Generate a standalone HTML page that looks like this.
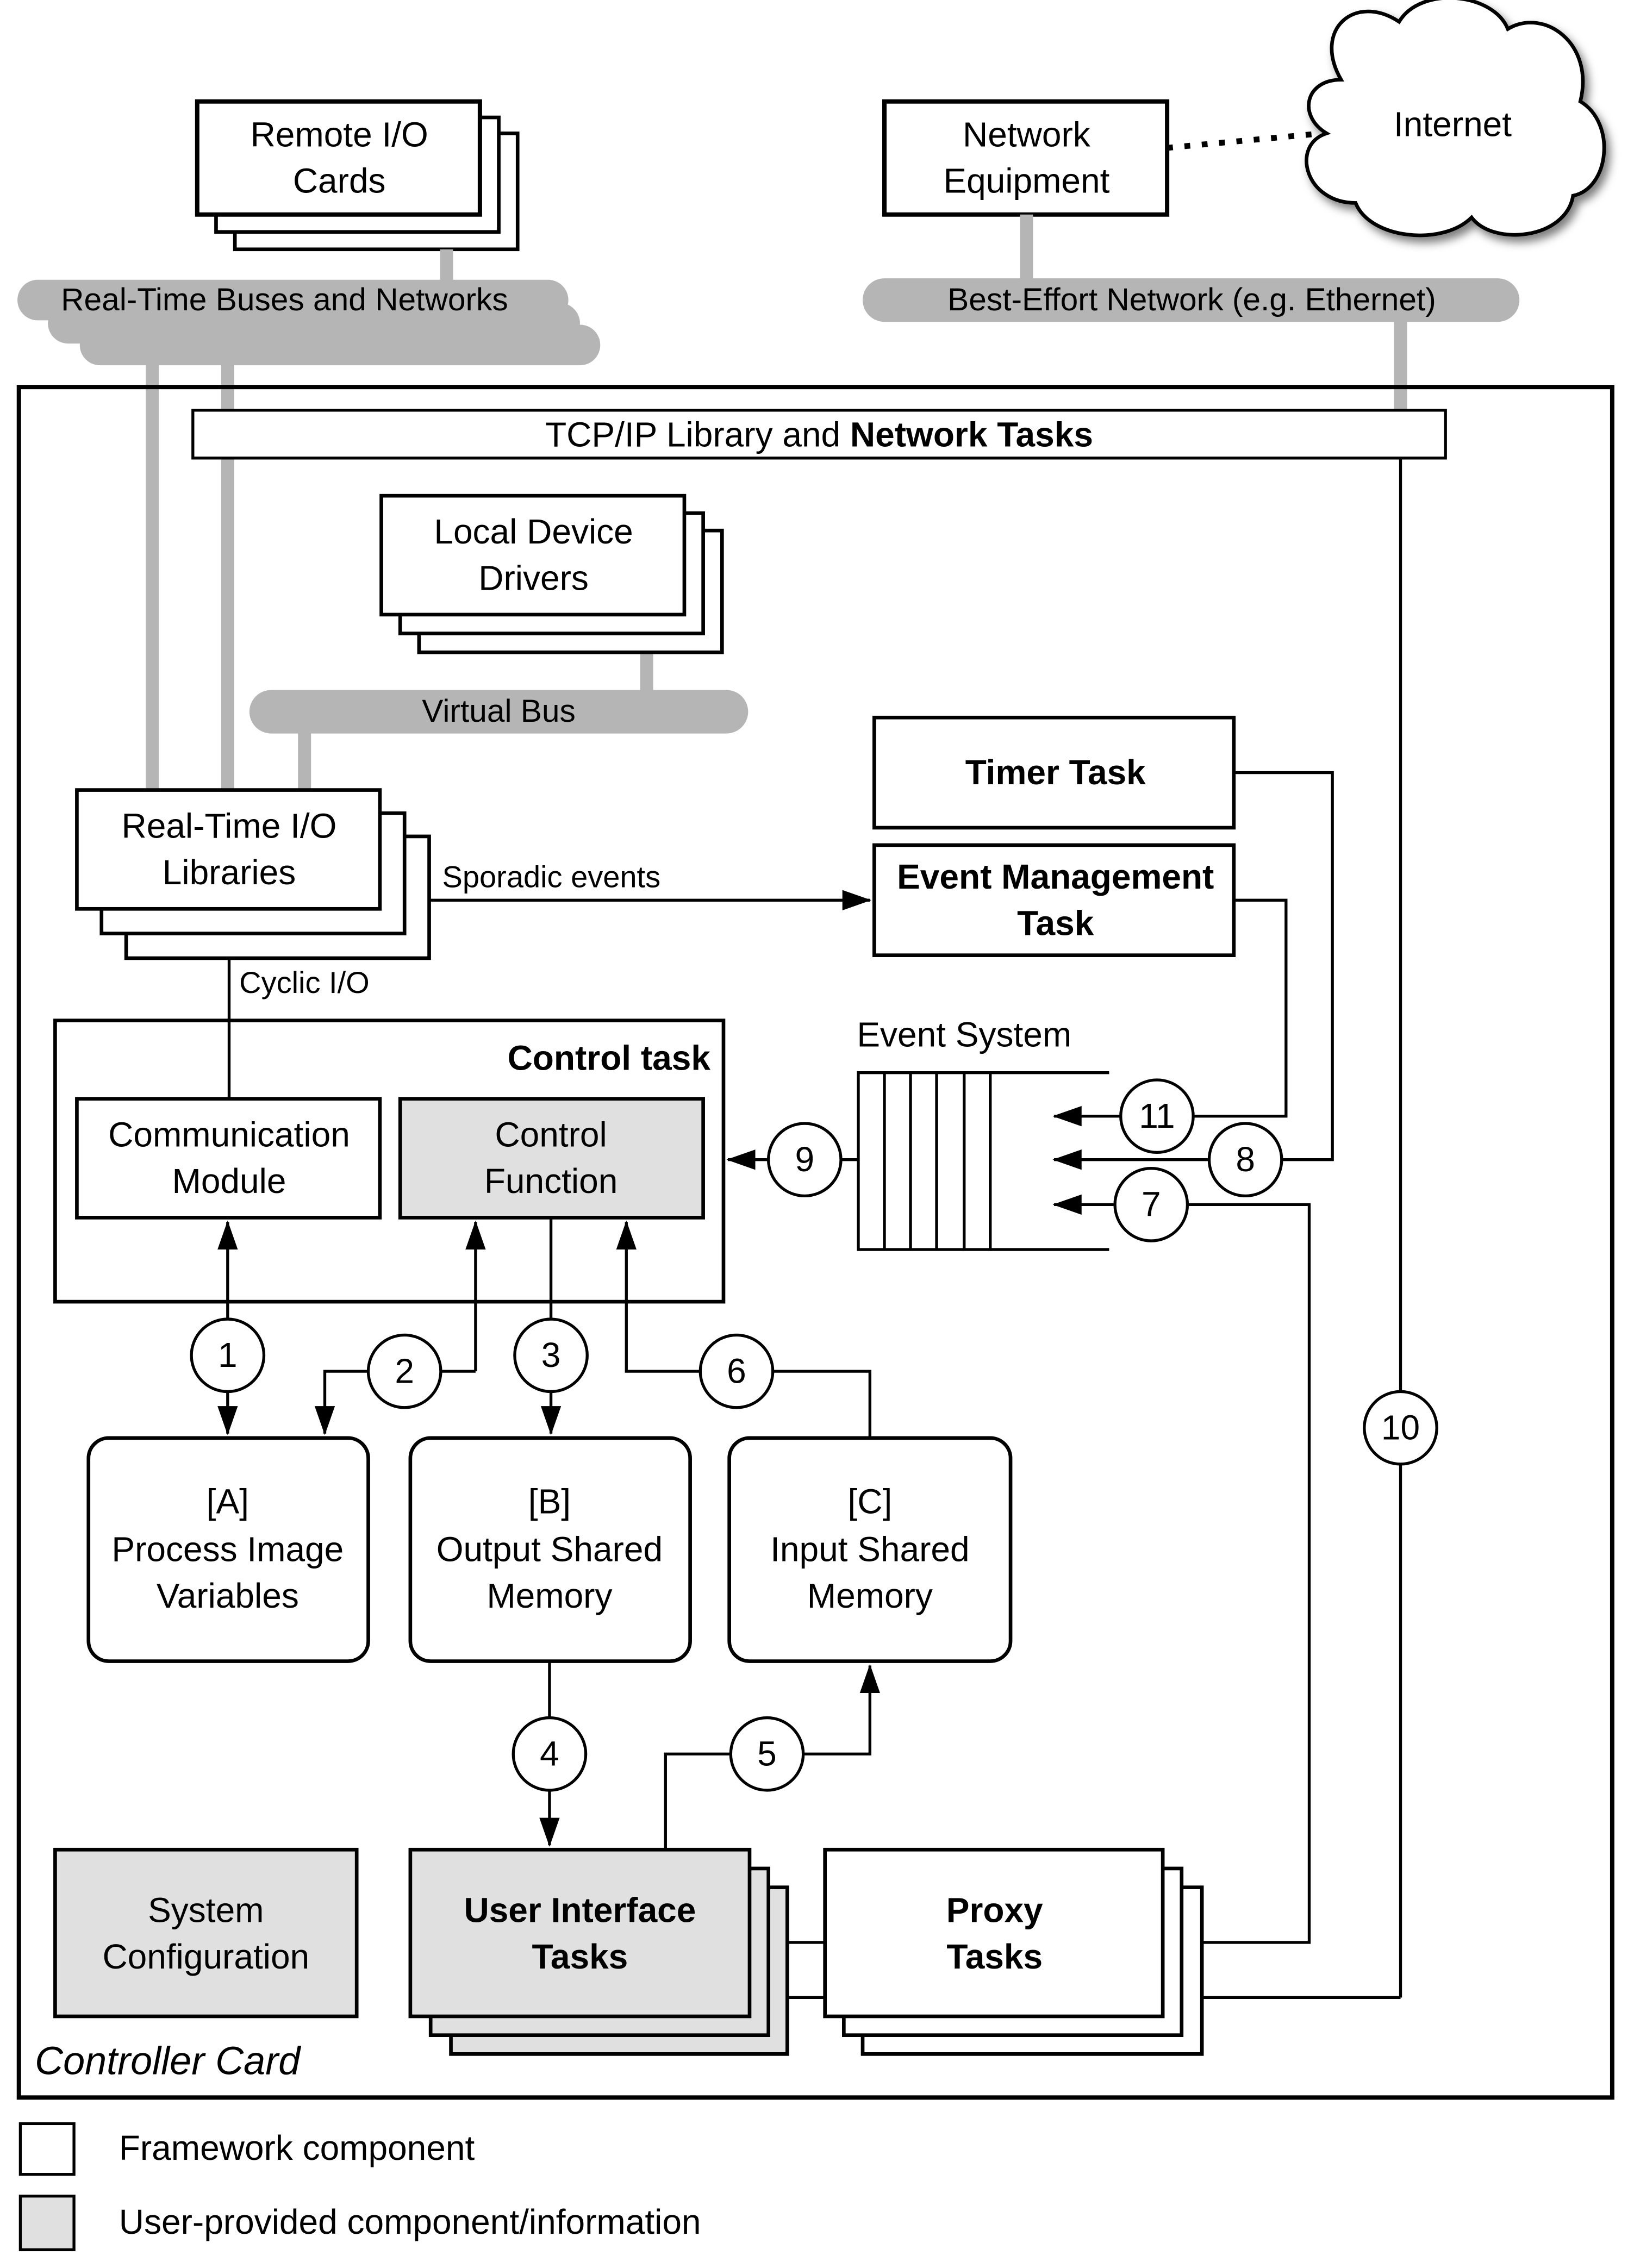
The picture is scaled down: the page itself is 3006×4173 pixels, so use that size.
<!DOCTYPE html>
<html><head><meta charset="utf-8"><style>
html,body{margin:0;padding:0;background:#fff}
svg{display:block}
text{font-family:"Liberation Sans",sans-serif;font-size:24px;fill:#000}
.b{font-weight:bold}
</style></head><body>
<svg width="3006" height="4173" viewBox="0 0 1127 1564.6" xmlns="http://www.w3.org/2000/svg">
<defs>
<marker id="as" markerWidth="20" markerHeight="14" refX="19" refY="7" orient="auto-start-reverse" markerUnits="userSpaceOnUse" viewBox="0 0 20 14"><path d="M0,0 L20,7 L0,14 Z" fill="#000"/></marker>
</defs>
<g fill="none" stroke="#000" stroke-width="2.5">
<rect x="162" y="92" width="195" height="80" fill="#fff"/>
<rect x="149" y="81" width="195" height="79" fill="#fff"/>
<rect x="136" y="70" width="195" height="78" fill="#fff" stroke-width="3"/>
<rect x="610" y="70" width="195" height="78" fill="#fff" stroke-width="3"/>
<line x1="805" y1="102" x2="912" y2="92" stroke-dasharray="4,8" stroke-width="4"/>
</g>
<path d="M925,55 C905,20 935,-5 965,15 C980,-10 1030,-5 1040,20 C1065,5 1100,30 1090,70 C1115,85 1110,130 1085,135 C1080,165 1030,170 1015,150 C995,170 945,165 935,140 C900,140 890,100 915,92 C895,80 900,55 925,55 Z" fill="#fff" stroke="#000" stroke-width="2.5" style="filter:drop-shadow(3px 4px 3px rgba(0,0,0,.5))"/>
<text x="1002" y="94" text-anchor="middle">Internet</text>
<text x="234" y="101" text-anchor="middle">Remote I/O</text>
<text x="234" y="133" text-anchor="middle">Cards</text>
<text x="708" y="101" text-anchor="middle">Network</text>
<text x="708" y="133" text-anchor="middle">Equipment</text>
<g stroke="#b5b5b5" stroke-width="9">
<line x1="308" y1="172" x2="308" y2="195"/>
<line x1="708" y1="148" x2="708" y2="195"/>
<line x1="966" y1="220" x2="966" y2="285"/>
<line x1="105" y1="250" x2="105" y2="545"/>
<line x1="157" y1="250" x2="157" y2="545"/>
<line x1="446" y1="450" x2="446" y2="478"/>
<line x1="210" y1="504" x2="210" y2="545"/>
</g>
<g fill="#b5b5b5">
<rect x="12" y="193" width="380" height="28" rx="14"/>
<rect x="33" y="209" width="367" height="28" rx="14"/>
<rect x="55" y="224" width="359" height="28" rx="14"/>
<rect x="595" y="192" width="453" height="30" rx="15"/>
<rect x="172" y="476" width="344" height="30" rx="15"/>
</g>
<text x="42" y="214" style="font-size:22px">Real-Time Buses and Networks</text>
<text x="822" y="214" text-anchor="middle" style="font-size:22px">Best-Effort Network (e.g. Ethernet)</text>
<text x="344" y="498" text-anchor="middle" style="font-size:22px">Virtual Bus</text>
<g fill="none" stroke="#000" stroke-width="2.5">
<rect x="13" y="267" width="1099" height="1180" stroke-width="3"/>
<rect x="133" y="283" width="864" height="33" fill="#fff" stroke-width="2"/>
<line x1="966" y1="316" x2="966" y2="1378" stroke-width="2"/>
<rect x="289" y="366" width="209" height="84" fill="#fff"/>
<rect x="276" y="354" width="209" height="83" fill="#fff"/>
<rect x="263" y="342" width="209" height="82" fill="#fff"/>
<rect x="87" y="577" width="209" height="84" fill="#fff"/>
<rect x="70" y="561" width="209" height="83" fill="#fff"/>
<rect x="53" y="545" width="209" height="82" fill="#fff"/>
<rect x="603" y="495" width="248" height="76" fill="#fff"/>
<rect x="603" y="583" width="248" height="76" fill="#fff"/>
<line x1="296" y1="621" x2="600" y2="621" stroke-width="2" marker-end="url(#as)"/>
<line x1="158" y1="661" x2="158" y2="758" stroke-width="2"/>
<rect x="38" y="704" width="461" height="194"/>
<rect x="53" y="758" width="209" height="82"/>
<rect x="276" y="758" width="209" height="82" fill="#e0e0e0"/>
<rect x="592" y="740" width="91" height="122" stroke-width="2"/>
<g stroke-width="2"><line x1="610" y1="740" x2="610" y2="862"/><line x1="628" y1="740" x2="628" y2="862"/><line x1="646" y1="740" x2="646" y2="862"/><line x1="665" y1="740" x2="665" y2="862"/>
<line x1="683" y1="740" x2="765" y2="740"/><line x1="683" y1="862" x2="765" y2="862"/>
<line x1="592" y1="800" x2="502" y2="800" marker-end="url(#as)"/>
<polyline points="851,533 919,533 919,800 727,800" marker-end="url(#as)"/>
<polyline points="851,621 887,621 887,770 727,770" marker-end="url(#as)"/>
<polyline points="829,1340 903,1340 903,831 727,831" marker-end="url(#as)"/>
<polyline points="829,1378 966,1378"/>
<line x1="157" y1="935" x2="157" y2="843" marker-end="url(#as)"/>
<line x1="157" y1="935" x2="157" y2="989" marker-end="url(#as)"/>
<polyline points="328,946 328,843" marker-end="url(#as)"/>
<polyline points="328,946 224,946 224,989" marker-end="url(#as)"/>
<line x1="380" y1="840" x2="380" y2="989" marker-end="url(#as)"/>
<polyline points="600,992 600,946 432,946 432,843" marker-end="url(#as)"/>
<line x1="379" y1="1146" x2="379" y2="1273" marker-end="url(#as)"/>
<polyline points="459,1276 459,1210 600,1210 600,1149" marker-end="url(#as)"/>
<line x1="543" y1="1340" x2="569" y2="1340"/><line x1="543" y1="1378" x2="569" y2="1378"/>
</g>
<rect x="61" y="992" width="193" height="154" rx="14"/>
<rect x="283" y="992" width="193" height="154" rx="14"/>
<rect x="503" y="992" width="194" height="154" rx="14"/>
<rect x="38" y="1276" width="208" height="115" fill="#e0e0e0"/>
<rect x="311" y="1302" width="232" height="115" fill="#e0e0e0"/>
<rect x="297" y="1289" width="233" height="115" fill="#e0e0e0"/>
<rect x="283" y="1276" width="234" height="115" fill="#e0e0e0"/>
<rect x="595" y="1302" width="234" height="115" fill="#fff"/>
<rect x="582" y="1289" width="233" height="115" fill="#fff"/>
<rect x="569" y="1276" width="233" height="115" fill="#fff"/>
<rect x="14" y="1465" width="37" height="35" stroke-width="2"/>
<rect x="14" y="1515" width="37" height="37" fill="#e0e0e0" stroke-width="2"/>
<g fill="#fff" stroke-width="2">
<circle cx="966" cy="985" r="25"/><circle cx="555" cy="800" r="25"/><circle cx="859" cy="800" r="25"/><circle cx="798" cy="770" r="25"/><circle cx="794" cy="831" r="25"/>
<circle cx="157" cy="935" r="25"/><circle cx="279" cy="946" r="25"/><circle cx="380" cy="935" r="25"/><circle cx="508" cy="946" r="25"/><circle cx="379" cy="1210" r="25"/><circle cx="529" cy="1210" r="25"/>
</g>
</g>
<g text-anchor="middle">
<text x="966" y="993">10</text><text x="555" y="808">9</text><text x="859" y="808">8</text><text x="798" y="778">11</text><text x="794" y="839">7</text>
<text x="157" y="943">1</text><text x="279" y="954">2</text><text x="380" y="943">3</text><text x="508" y="954">6</text><text x="379" y="1218">4</text><text x="529" y="1218">5</text>
<text x="565" y="308">TCP/IP Library and <tspan class="b">Network Tasks</tspan></text>
<text x="368" y="375">Local Device</text><text x="368" y="407">Drivers</text>
<text x="158" y="578">Real-Time I/O</text><text x="158" y="610">Libraries</text>
<text x="728" y="541" class="b">Timer Task</text>
<text x="728" y="613" class="b">Event Management</text><text x="728" y="645" class="b">Task</text>
<text x="158" y="791">Communication</text><text x="158" y="823">Module</text>
<text x="380" y="791">Control</text><text x="380" y="823">Function</text>
<text x="157" y="1044">[A]</text><text x="157" y="1077">Process Image</text><text x="157" y="1109">Variables</text>
<text x="379" y="1044">[B]</text><text x="379" y="1077">Output Shared</text><text x="379" y="1109">Memory</text>
<text x="600" y="1044">[C]</text><text x="600" y="1077">Input Shared</text><text x="600" y="1109">Memory</text>
<text x="142" y="1326">System</text><text x="142" y="1358">Configuration</text>
<text x="400" y="1326" class="b">User Interface</text><text x="400" y="1358" class="b">Tasks</text>
<text x="686" y="1326" class="b">Proxy</text><text x="686" y="1358" class="b">Tasks</text>
</g>
<text x="490" y="738" text-anchor="end" class="b">Control task</text>
<text x="305" y="612" style="font-size:21px">Sporadic events</text>
<text x="165" y="685" style="font-size:21px">Cyclic I/O</text>
<text x="591" y="722">Event System</text>
<text x="24" y="1431" style="font-style:italic;font-size:27px">Controller Card</text>
<text x="82" y="1490">Framework component</text>
<text x="82" y="1541">User-provided component/information</text>
</svg>
</body></html>
